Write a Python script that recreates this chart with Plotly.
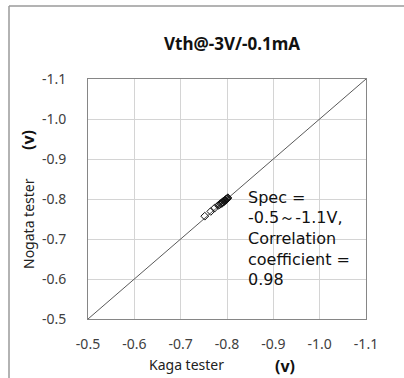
import plotly.graph_objects as go

# ---- data ----
kaga_x = [-0.752, -0.765, -0.773, -0.781, -0.784, -0.786, -0.788, -0.789, -0.790, -0.791,
          -0.792, -0.793, -0.794, -0.795, -0.796, -0.797, -0.798, -0.799, -0.800, -0.801, -0.802]
nogata_y = [-0.757, -0.769, -0.777, -0.784, -0.786, -0.788, -0.790, -0.789, -0.792, -0.793,
            -0.792, -0.795, -0.794, -0.796, -0.797, -0.797, -0.799, -0.800, -0.800, -0.802, -0.803]
ref_line_x = [-0.5, -1.1]
ref_line_y = [-0.5, -1.1]
tick_vals = [-0.5, -0.6, -0.7, -0.8, -0.9, -1.0, -1.1]
tick_text = ["-0.5", "-0.6", "-0.7", "-0.8", "-0.9", "-1.0", "-1.1"]
title_text = "Vth@-3V/-0.1mA"
note_lines = ["Spec =", "-0.5～-1.1V,", "Correlation", "coefficient =", "0.98"]

W, H = 404, 378
L, R, T, B = 88, 38, 79, 59
PW, PH = W - L - R, H - T - B

def px(x):
    return (x - L) / PW

def py(y):
    return (H - B - y) / PH

FONT = "Noto Sans"
NOTE_FONT = "DejaVu Sans"

fig = go.Figure()
fig.add_trace(go.Scatter(x=ref_line_x, y=ref_line_y, mode="lines",
                         line=dict(color="#595959", width=1), hoverinfo="skip", showlegend=False))
fig.add_trace(go.Scatter(x=kaga_x, y=nogata_y, mode="markers",
                         marker=dict(symbol="diamond-open", size=6, color="#111111",
                                     line=dict(width=1, color="#111111")),
                         showlegend=False))

axis_common = dict(
    tickvals=tick_vals, ticktext=tick_text, range=[-0.5, -1.1],
    showgrid=True, gridcolor="#d4d4d4", gridwidth=1,
    zeroline=False, showline=True, linecolor="#868686", linewidth=1, mirror=True,
    ticks="", tickfont=dict(family=FONT, size=14, color="#404040"),
)
fig.update_xaxes(**axis_common, ticklabelstandoff=12)
fig.update_yaxes(**axis_common, ticklabelstandoff=18)

annotations = []
annotations.append(dict(text="<b>" + title_text + "</b>", x=px(232), y=py(43), xref="paper", yref="paper",
                        showarrow=False, font=dict(family=FONT, size=17, color="#111111"),
                        xanchor="center", yanchor="middle"))
for i, line in enumerate(note_lines):
    annotations.append(dict(text=line, x=px(246), y=py(197 + 20.7 * i), xref="paper", yref="paper",
                            showarrow=False, font=dict(family=NOTE_FONT, size=16, color="#111111"),
                            xanchor="left", yanchor="middle"))
annotations.append(dict(text="Kaga tester", x=px(186), y=py(364), xref="paper", yref="paper",
                        showarrow=False, font=dict(family=FONT, size=14, color="#222222"),
                        xanchor="center", yanchor="middle"))
annotations.append(dict(text="<b>(v)</b>", x=px(285), y=py(366), xref="paper", yref="paper",
                        showarrow=False, font=dict(family=FONT, size=16, color="#111111"),
                        xanchor="center", yanchor="middle"))
annotations.append(dict(text="Nogata tester", x=px(28), y=py(224), xref="paper", yref="paper",
                        showarrow=False, textangle=-90, font=dict(family=FONT, size=14, color="#222222"),
                        xanchor="center", yanchor="middle"))
annotations.append(dict(text="<b>(v)</b>", x=px(28), y=py(140), xref="paper", yref="paper",
                        showarrow=False, textangle=-90, font=dict(family=FONT, size=16, color="#111111"),
                        xanchor="center", yanchor="middle"))

shapes = [
    dict(type="line", xref="paper", yref="paper", x0=px(9), x1=px(404), y0=py(6), y1=py(6),
         line=dict(color="#9a9a9a", width=1.5)),
    dict(type="line", xref="paper", yref="paper", x0=px(9), x1=px(9), y0=py(6), y1=py(378),
         line=dict(color="#9a9a9a", width=1.5)),
]

fig.update_layout(
    width=W, height=H, margin=dict(l=L, r=R, t=T, b=B),
    paper_bgcolor="white", plot_bgcolor="white",
    annotations=annotations, shapes=shapes,
    font=dict(family=FONT),
)

fig.write_html("out.html")
